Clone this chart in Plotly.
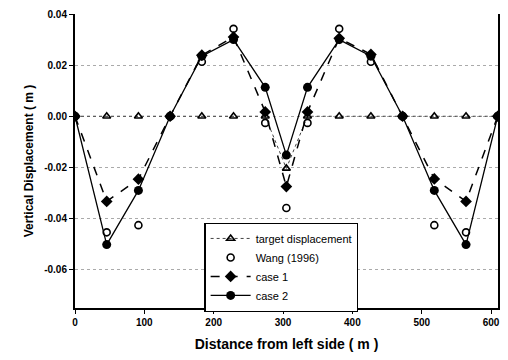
import plotly.graph_objects as go

distance = [0, 45.72, 91.44, 137.16, 182.88, 228.6, 274.32, 304.8, 335.28, 381.0, 426.72, 472.44, 518.16, 563.88, 609.6]
target = [0, 0, 0, 0, 0, 0, 0, -0.0204, 0, 0, 0, 0, 0, 0, 0]
wang_x = [45.72, 91.44, 182.88, 228.6, 274.32, 304.8, 335.28, 381.0, 426.72, 518.16, 563.88]
wang = [-0.0454, -0.0426, 0.0213, 0.0342, -0.0026, -0.0359, -0.0026, 0.0342, 0.0213, -0.0426, -0.0454]
case1 = [0, -0.0333, -0.0246, 0, 0.0239, 0.0310, 0.0017, -0.0275, 0.0017, 0.0305, 0.0242, 0, -0.0245, -0.0333, 0]
case2 = [0, -0.0502, -0.0290, 0, 0.0235, 0.0300, 0.0113, -0.0152, 0.0113, 0.0300, 0.0235, 0, -0.0290, -0.0502, 0]

font = dict(family="Liberation Sans, Arial, sans-serif", color="black")

fig = go.Figure()
fig.add_trace(go.Scatter(x=distance, y=target, name="target displacement", mode="lines+markers",
                         line=dict(color="#444", width=1, dash="dot"),
                         marker=dict(symbol="triangle-up-open", size=7, color="black", line=dict(width=1.6))))
fig.add_trace(go.Scatter(x=wang_x, y=wang, name="Wang (1996)", mode="markers",
                         marker=dict(symbol="circle-open", size=7, color="black", line=dict(width=1.6))))
fig.add_trace(go.Scatter(x=distance, y=case1, name="case 1", mode="lines+markers",
                         line=dict(color="black", width=1.5, dash="dash"),
                         marker=dict(symbol="diamond", size=9, color="black")))
fig.add_trace(go.Scatter(x=distance, y=case2, name="case 2", mode="lines+markers",
                         line=dict(color="black", width=1.3),
                         marker=dict(symbol="circle", size=9, color="black")))

fig.update_layout(
    width=508, height=360,
    margin=dict(l=75, r=8, t=11, b=52),
    paper_bgcolor="white", plot_bgcolor="white",
    font=font,
    showlegend=True,
    legend=dict(x=0.306, y=0.29, xanchor="left", yanchor="top",
                bgcolor="white", bordercolor="black", borderwidth=1.2,
                font=dict(size=11, family=font["family"], color="black"),
                tracegroupgap=0, itemwidth=40),
    xaxis=dict(range=[0, 610], tickvals=[0, 100, 200, 300, 400, 500, 600],
               showgrid=False, zeroline=False, showline=True, linecolor="black", linewidth=2,
               ticks="outside", ticklen=4, tickcolor="black",
               tickfont=dict(size=10, weight="bold"),
               title=dict(text="Distance from left side ( m )", font=dict(size=14, weight="bold"), standoff=12)),
    yaxis=dict(range=[-0.075, 0.04], tickvals=[-0.06, -0.04, -0.02, 0, 0.02, 0.04],
               ticktext=["-0.06", "-0.04", "-0.02", "0.00", "0.02", "0.04"],
               showgrid=True, gridcolor="#aaa", griddash="dot", gridwidth=1,
               zeroline=False, showline=True, linecolor="black", linewidth=2, mirror=True,
               ticks="outside", ticklen=4, tickcolor="black",
               tickfont=dict(size=10, weight="bold"),
               title=dict(text="Vertical Displacement ( m )", font=dict(size=12, weight="bold"), standoff=8)),
)

fig.write_html("out.html")
